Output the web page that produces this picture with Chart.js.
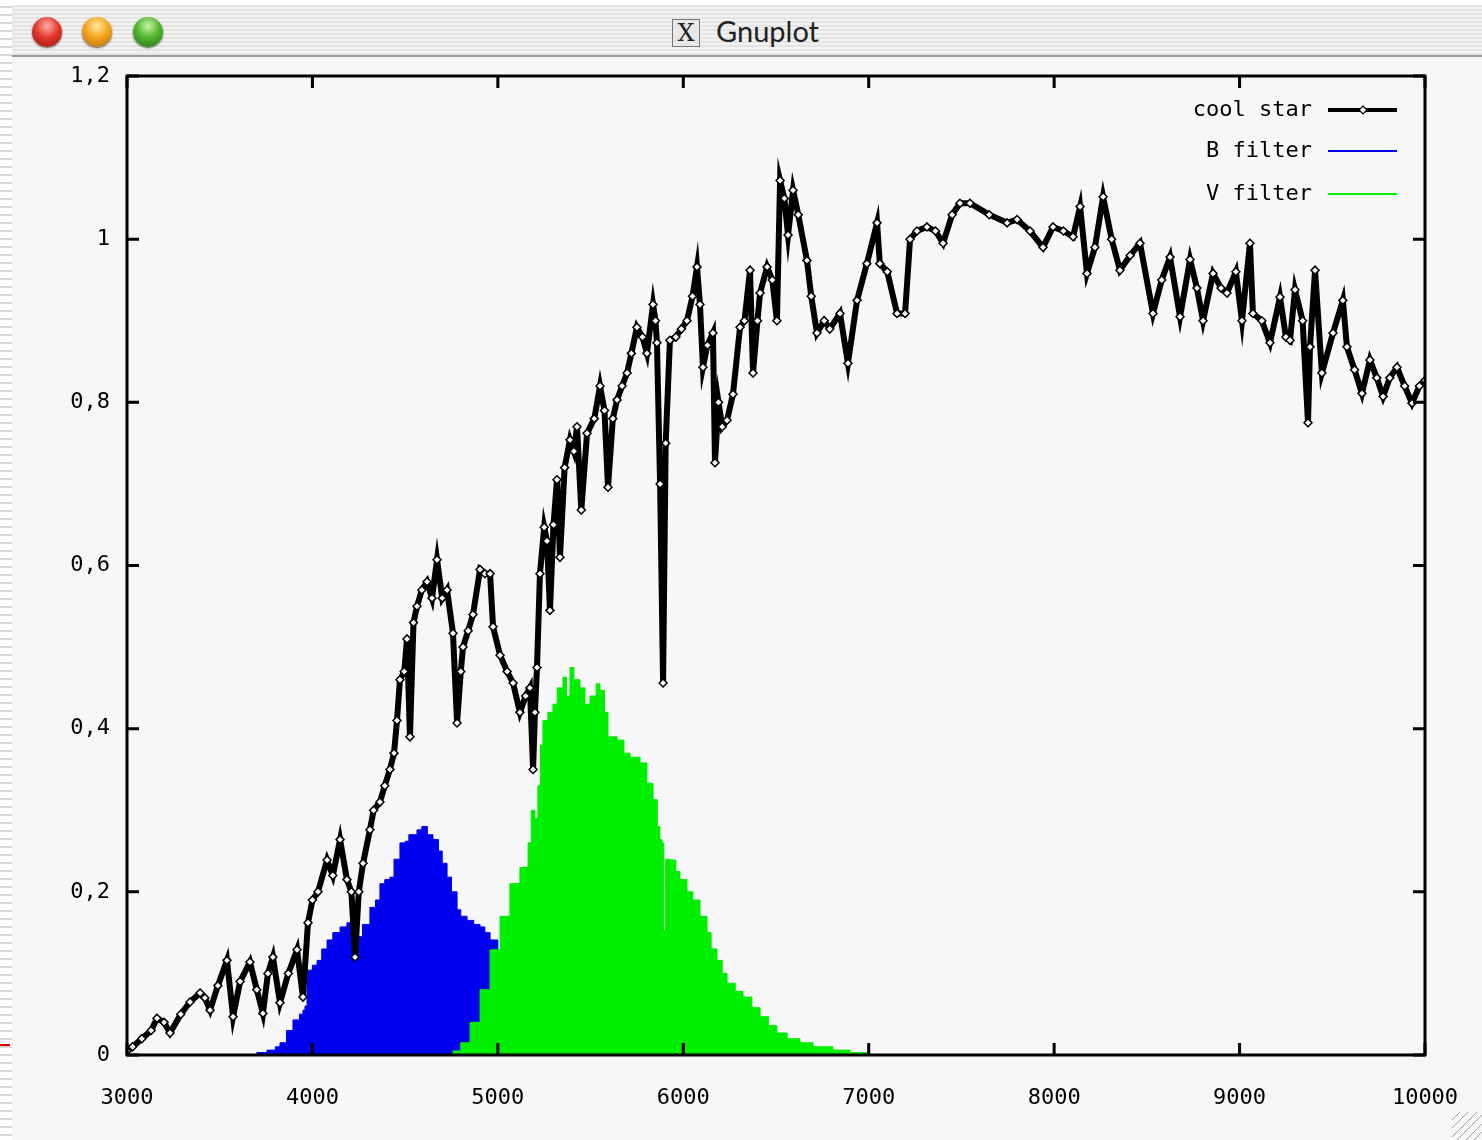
<!DOCTYPE html>
<html>
<head>
<meta charset="utf-8">
<title>Gnuplot</title>
<script src="https://cdn.jsdelivr.net/npm/chart.js@4.4.1/dist/chart.umd.min.js"></script>
<style>
  body { margin: 0; background: #ffffff; width: 1482px; height: 1140px; overflow: hidden; position: relative; }
  #strip { position: absolute; left: 0; top: 0; width: 12px; height: 1140px;
    background: repeating-linear-gradient(#ffffff 0 6px, #d8d8d8 6px 8px); }
  #win { position: absolute; left: 12px; top: 5px; width: 1470px; height: 1135px; background: #f7f6f9; }
  #bar { position: absolute; left: 0; top: 0; width: 100%; height: 50px;
    background: repeating-linear-gradient(#e4e4e4 0 2px, #f3f3f3 2px 4px);
    border-bottom: 2px solid #9a9a9a; border-top-left-radius: 4px; }
  .dot { position: absolute; top: 12px; width: 30px; height: 30px; border-radius: 50%; box-shadow: 0 1px 2px #555; }
  #red { left: 20px; background: radial-gradient(circle at 50% 30%, #ffb0a8 0, #e2372c 45%, #9c1408 100%); }
  #yel { left: 70px; background: radial-gradient(circle at 50% 30%, #ffe9a0 0, #f2a51c 45%, #b06a05 100%); }
  #grn { left: 121px; background: radial-gradient(circle at 50% 30%, #c8f5a8 0, #52b62e 45%, #236e10 100%); }
  #xicon { position: absolute; left: 660px; top: 14px; width: 26px; height: 26px; border: 1px solid #777;
    background: #e8e8e8; font: 24px "DejaVu Serif", serif; line-height: 26px; text-align: center; color: #222; }
  #title { position: absolute; left: 704px; top: 8px; font: 29px Lato, "DejaVu Sans", sans-serif; color: #222; }
  #mark { position: absolute; left: 0; top: 1044px; width: 10px; height: 2px; background: #d00000; }
  #grip { position: absolute; left: 1452px; top: 1112px; width: 30px; height: 28px;
    background: repeating-linear-gradient(135deg, #f7f6f9 0 5px, #a0a0a0 5px 6px); }
  canvas { position: absolute; left: 0; top: 0; }
</style>
</head>
<body>
<div id="strip"></div>
<div id="mark"></div>
<div id="win">
  <div id="bar">
    <div class="dot" id="red"></div>
    <div class="dot" id="yel"></div>
    <div class="dot" id="grn"></div>
    <div id="xicon">X</div>
    <div id="title">Gnuplot</div>
  </div>
</div>
<div id="grip"></div>
<canvas id="plot" width="1482" height="1140"></canvas>

<script>
// cool star spectrum
const starWave = [3000, 3030, 3080, 3130, 3162, 3200, 3232, 3290, 3340, 3394, 3420, 3448, 3490, 3539, 3572, 3610, 3663, 3700, 3733, 3760,
  3787, 3825, 3870, 3917, 3949, 3976, 4000, 4030, 4079, 4110, 4149, 4186, 4210, 4230, 4250, 4273, 4310, 4330, 4364, 4390,
  4418, 4440, 4456, 4472, 4495, 4510, 4526, 4545, 4564, 4590, 4618, 4645, 4672, 4700, 4726, 4758, 4780, 4800, 4812, 4840,
  4866, 4904, 4930, 4958, 4974, 5012, 5050, 5082, 5119, 5150, 5173, 5190, 5200, 5211, 5227, 5250, 5265, 5281, 5300, 5319,
  5335, 5360, 5389, 5410, 5427, 5450, 5481, 5520, 5551, 5575, 5594, 5620, 5643, 5670, 5697, 5720, 5750, 5780, 5804, 5837,
  5850, 5858, 5875, 5891, 5905, 5928, 5960, 5990, 6020, 6050, 6074, 6090, 6106, 6130, 6160, 6171, 6190, 6210, 6236, 6268,
  6306, 6330, 6360, 6376, 6400, 6414, 6452, 6480, 6505, 6522, 6545, 6565, 6592, 6620, 6667, 6690, 6721, 6760, 6790, 6845,
  6888, 6937, 6990, 7045, 7060, 7100, 7153, 7196, 7223, 7260, 7314, 7360, 7401, 7450, 7492, 7546, 7650, 7746, 7800, 7870,
  7940, 7994, 8050, 8102, 8140, 8177, 8220, 8264, 8310, 8355, 8410, 8463, 8533, 8580, 8625, 8679, 8733, 8770, 8803, 8857,
  8900, 8932, 8980, 9013, 9056, 9072, 9120, 9164, 9218, 9250, 9272, 9299, 9340, 9369, 9380, 9407, 9444, 9504, 9557, 9579,
  9620, 9660, 9703, 9740, 9774, 9810, 9849, 9890, 9930, 9970, 10000];
const starFlux = [0.005, 0.01, 0.02, 0.03, 0.045, 0.04, 0.027, 0.05, 0.065, 0.076, 0.07, 0.055, 0.085, 0.116, 0.047, 0.09, 0.114, 0.08, 0.051, 0.1,
  0.12, 0.064, 0.1, 0.129, 0.071, 0.162, 0.19, 0.2, 0.239, 0.22, 0.264, 0.215, 0.2, 0.12, 0.2, 0.235, 0.276, 0.3, 0.31, 0.33,
  0.35, 0.37, 0.41, 0.46, 0.47, 0.51, 0.39, 0.53, 0.55, 0.57, 0.58, 0.56, 0.607, 0.56, 0.57, 0.517, 0.407, 0.47, 0.5, 0.52,
  0.54, 0.595, 0.59, 0.59, 0.525, 0.49, 0.47, 0.456, 0.42, 0.44, 0.45, 0.35, 0.42, 0.475, 0.59, 0.647, 0.63, 0.545, 0.65, 0.705,
  0.61, 0.72, 0.754, 0.74, 0.77, 0.668, 0.762, 0.78, 0.82, 0.79, 0.696, 0.78, 0.803, 0.82, 0.836, 0.86, 0.892, 0.88, 0.86, 0.92,
  0.9, 0.873, 0.7, 0.456, 0.75, 0.876, 0.88, 0.89, 0.9, 0.93, 0.966, 0.92, 0.843, 0.87, 0.885, 0.726, 0.8, 0.77, 0.778, 0.81,
  0.892, 0.9, 0.962, 0.836, 0.9, 0.934, 0.966, 0.95, 0.9, 1.072, 1.05, 1.005, 1.06, 1.03, 0.974, 0.93, 0.885, 0.9, 0.89, 0.909,
  0.848, 0.925, 0.97, 1.02, 0.97, 0.96, 0.909, 0.909, 1.0, 1.01, 1.015, 1.01, 0.995, 1.03, 1.044, 1.044, 1.03, 1.02, 1.024, 1.01,
  0.99, 1.015, 1.01, 1.003, 1.04, 0.958, 0.99, 1.052, 1.0, 0.962, 0.98, 0.995, 0.909, 0.95, 0.978, 0.905, 0.975, 0.94, 0.9, 0.958,
  0.94, 0.934, 0.96, 0.9, 0.995, 0.909, 0.9, 0.873, 0.929, 0.88, 0.876, 0.938, 0.9, 0.775, 0.868, 0.962, 0.836, 0.885, 0.925, 0.868,
  0.84, 0.811, 0.852, 0.83, 0.807, 0.83, 0.843, 0.82, 0.799, 0.82, 0.827];

// B filter
const bWave = [3647, 3700, 3755, 3800, 3825, 3860, 3895, 3930, 3949, 3960, 3971, 4000, 4025, 4050, 4079, 4110, 4149, 4186, 4210, 4240,
  4270, 4310, 4340, 4364, 4390, 4418, 4440, 4472, 4500, 4520, 4564, 4590, 4620, 4650, 4680, 4700, 4726, 4750, 4780, 4800,
  4834, 4870, 4904, 4930, 4958, 5000, 5050, 5100, 5200, 5300, 5400];
const bFlux = [0, 0.003, 0.006, 0.01, 0.015, 0.03, 0.043, 0.05, 0.055, 0.06, 0.104, 0.11, 0.116, 0.13, 0.141, 0.15, 0.157, 0.162, 0.15, 0.145,
  0.16, 0.181, 0.19, 0.21, 0.215, 0.218, 0.24, 0.26, 0.262, 0.27, 0.276, 0.28, 0.27, 0.264, 0.25, 0.235, 0.218, 0.2, 0.178, 0.17,
  0.165, 0.16, 0.157, 0.15, 0.141, 0.12, 0.09, 0.06, 0.03, 0.01, 0];

// V filter
const vWave = [4720, 4758, 4800, 4850, 4904, 4958, 5012, 5065, 5119, 5163, 5180, 5200, 5216, 5230, 5243, 5270, 5297, 5320, 5351, 5370,
  5389, 5410, 5443, 5470, 5497, 5530, 5551, 5575, 5594, 5620, 5643, 5680, 5713, 5767, 5804, 5837, 5860, 5874, 5885, 5895,
  5905, 5928, 5960, 5982, 6020, 6052, 6090, 6128, 6150, 6182, 6210, 6236, 6280, 6322, 6370, 6414, 6460, 6505, 6560, 6629,
  6700, 6807, 6900, 6991, 7000];
const vFlux = [0, 0.005, 0.015, 0.04, 0.08, 0.129, 0.17, 0.21, 0.23, 0.26, 0.3, 0.29, 0.33, 0.38, 0.41, 0.42, 0.43, 0.45, 0.463, 0.44,
  0.475, 0.46, 0.45, 0.43, 0.44, 0.455, 0.447, 0.42, 0.39, 0.39, 0.386, 0.37, 0.365, 0.358, 0.333, 0.313, 0.28, 0.264, 0.26, 0.153,
  0.24, 0.239, 0.225, 0.215, 0.2, 0.19, 0.17, 0.15, 0.13, 0.116, 0.1, 0.088, 0.078, 0.071, 0.058, 0.047, 0.036, 0.027, 0.02, 0.015,
  0.01, 0.006, 0.003, 0.002, 0];

const xTicks = [3000, 4000, 5000, 6000, 7000, 8000, 9000, 10000];
const yTicks = [0, 0.2, 0.4, 0.6, 0.8, 1, 1.2];

const bg = "#f7f6f9";
const tickFont = { family: "DejaVu Sans Mono", size: 22 };

const pts = (xs, ys) => xs.map((x, i) => ({ x: x, y: ys[i] }));
const commaLabel = (v) => String(Number(v.toFixed(1))).replace(".", ",");

// frame, inward ticks and the gnuplot style key
const gnuFrame = {
  id: "gnuFrame",
  afterDatasetsDraw(chart) {
    const { ctx, chartArea: a, scales } = chart;
    ctx.save();
    ctx.strokeStyle = "#000";
    ctx.lineWidth = 3;
    ctx.strokeRect(a.left, a.top, a.right - a.left, a.bottom - a.top);
    ctx.beginPath();
    xTicks.forEach((t) => {
      const px = scales.x.getPixelForValue(t);
      ctx.moveTo(px, a.bottom); ctx.lineTo(px, a.bottom - 12);
      ctx.moveTo(px, a.top); ctx.lineTo(px, a.top + 12);
    });
    yTicks.forEach((t) => {
      const py = scales.y.getPixelForValue(t);
      ctx.moveTo(a.left, py); ctx.lineTo(a.left + 12, py);
      ctx.moveTo(a.right, py); ctx.lineTo(a.right - 12, py);
    });
    ctx.stroke();

    // key
    ctx.font = "22px 'DejaVu Sans Mono'";
    ctx.textAlign = "right";
    ctx.textBaseline = "middle";
    const rows = [110, 151, 194];
    chart.data.datasets.forEach((ds, i) => {
      const y = rows[i];
      ctx.fillStyle = "#000";
      ctx.fillText(ds.label, a.right - 113, y);
      ctx.strokeStyle = ds.borderColor;
      ctx.lineWidth = i === 0 ? 4 : 2;
      ctx.beginPath();
      ctx.moveTo(a.right - 97, y); ctx.lineTo(a.right - 28, y);
      ctx.stroke();
      if (i === 0) {
        ctx.fillStyle = bg;
        ctx.lineWidth = 1.2;
        ctx.beginPath();
        const cx = a.right - 62;
        ctx.moveTo(cx, y - 4); ctx.lineTo(cx + 4, y); ctx.lineTo(cx, y + 4); ctx.lineTo(cx - 4, y); ctx.closePath();
        ctx.fill(); ctx.stroke();
      }
    });
    ctx.restore();
  },
};

new Chart(document.getElementById("plot").getContext("2d"), {
  type: "line",
  data: {
    datasets: [
      {
        label: "cool star",
        data: pts(starWave, starFlux),
        borderColor: "#000000",
        borderWidth: 6,
        pointStyle: "rectRot",
        pointRadius: 4,
        pointBackgroundColor: bg,
        pointBorderColor: "#000000",
        pointBorderWidth: 1.5,
        fill: false,
        order: 0,
      },
      {
        label: "B filter",
        data: pts(bWave, bFlux),
        borderColor: "#0000f0",
        backgroundColor: "#0000f0",
        borderWidth: 1,
        pointRadius: 0,
        stepped: true,
        fill: "origin",
        order: 2,
      },
      {
        label: "V filter",
        data: pts(vWave, vFlux),
        borderColor: "#00ee00",
        backgroundColor: "#00ee00",
        borderWidth: 1,
        pointRadius: 0,
        stepped: true,
        fill: "origin",
        order: 1,
      },
    ],
  },
  options: {
    responsive: false,
    animation: false,
    layout: { padding: { top: 76, right: 57, left: 0, bottom: 0 } },
    plugins: {
      legend: { display: false },
      tooltip: { enabled: false },
    },
    scales: {
      x: {
        type: "linear",
        min: 3000,
        max: 10000,
        afterFit: (s) => { s.height = 85; s.paddingRight = 0; s.paddingLeft = 0; },
        afterBuildTicks: (s) => { s.ticks = xTicks.map((v) => ({ value: v })); },
        grid: { display: false, drawTicks: false },
        border: { display: false },
        ticks: { color: "#000", font: tickFont, padding: 30, maxRotation: 0, callback: (v) => String(v) },
      },
      y: {
        min: 0,
        max: 1.2,
        afterFit: (s) => { s.width = 127; s.paddingTop = 0; s.paddingBottom = 0; },
        afterBuildTicks: (s) => { s.ticks = yTicks.map((v) => ({ value: v })); },
        grid: { display: false, drawTicks: false },
        border: { display: false },
        ticks: { color: "#000", font: tickFont, padding: 17, callback: commaLabel },
      },
    },
  },
  plugins: [gnuFrame],
});
</script>
</body>
</html>
